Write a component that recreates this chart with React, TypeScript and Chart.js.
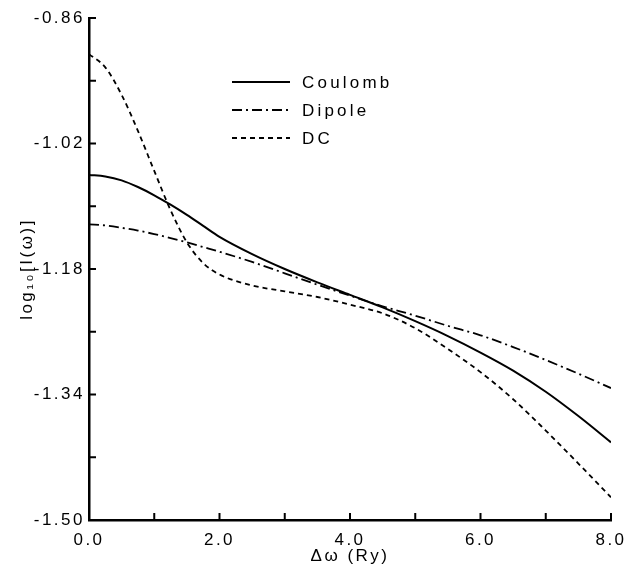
import { useEffect, useRef } from 'react';
import { Chart, registerables } from 'chart.js';

Chart.register(...registerables);

const xValues = [0, 0.25, 0.5, 0.75, 1, 1.25, 1.5, 1.75, 2, 2.5, 3, 3.5, 4, 4.5, 5, 5.5, 6, 6.5, 7, 7.5, 8];
const coulomb = [-1.060, -1.062, -1.067, -1.0755, -1.086, -1.098, -1.111, -1.125, -1.139, -1.161, -1.180, -1.197, -1.213, -1.229, -1.2465, -1.2655, -1.2865, -1.3095, -1.3365, -1.3675, -1.401];
const dipole = [-1.123, -1.1245, -1.1275, -1.131, -1.1355, -1.1405, -1.146, -1.152, -1.158, -1.171, -1.1855, -1.200, -1.214, -1.2275, -1.2395, -1.2525, -1.2645, -1.2795, -1.296, -1.3135, -1.3318];
const dc = [-0.906, -0.923, -0.958, -1.004, -1.055, -1.105, -1.146, -1.1725, -1.187, -1.201, -1.2085, -1.2157, -1.2255, -1.2365, -1.2555, -1.282, -1.3115, -1.346, -1.386, -1.428, -1.471];

const seriesLabels = ['Coulomb', 'Dipole', 'DC'];

const xMajorTicks = [0, 2, 4, 6, 8];
const xTickLabels = ['0.0', '2.0', '4.0', '6.0', '8.0'];
const xMinorTicks = [1, 3, 5, 7];
const yMajorTicks = [-1.5, -1.34, -1.18, -1.02, -0.86];
const yTickLabels = ['-1.50', '-1.34', '-1.18', '-1.02', '-0.86'];
const yMinorTicks = [-1.42, -1.26, -1.1, -0.94];

const xTitle = 'Δω (Ry)';
const yTitle = 'log₁₀[I(ω)]';

const FONT = "'Liberation Sans', Arial, sans-serif";

const spacingPlugin = {
  id: 'spacing',
  beforeDraw(chart: any) {
    chart.ctx.letterSpacing = '2.5px';
  },
};

const innerTicksPlugin = {
  id: 'innerTicks',
  afterDraw(chart: any) {
    const ctx = chart.ctx;
    const xs = chart.scales.x;
    const ys = chart.scales.y;
    const { left, bottom } = chart.chartArea;
    const len = 7;
    ctx.save();
    ctx.strokeStyle = '#000';
    ctx.lineWidth = 2;
    ctx.setLineDash([]);
    ctx.beginPath();
    [...xMajorTicks, ...xMinorTicks].forEach((v) => {
      const px = xs.getPixelForValue(v);
      ctx.moveTo(px, bottom);
      ctx.lineTo(px, bottom - len);
    });
    [...yMajorTicks, ...yMinorTicks].forEach((v) => {
      const py = ys.getPixelForValue(v);
      ctx.moveTo(left, py);
      ctx.lineTo(left + len, py);
    });
    ctx.stroke();
    ctx.restore();
  },
};

const legendPlugin = {
  id: 'inlineLegend',
  afterDraw(chart: any) {
    const ctx = chart.ctx;
    const x0 = 232;
    const x1 = 290;
    const tx = 302;
    const ys = [82, 110, 138];
    ctx.save();
    ctx.letterSpacing = '3.2px';
    ctx.font = `17px ${FONT}`;
    ctx.fillStyle = '#000';
    ctx.textBaseline = 'middle';
    ctx.textAlign = 'left';
    chart.data.datasets.forEach((ds: any, i: number) => {
      ctx.strokeStyle = '#000';
      ctx.lineWidth = 2;
      ctx.setLineDash(ds.borderDash || []);
      ctx.beginPath();
      ctx.moveTo(x0, ys[i]);
      ctx.lineTo(x1, ys[i]);
      ctx.stroke();
      ctx.fillText(ds.label, tx, ys[i] + 1);
    });
    ctx.restore();
  },
};

export default function App() {
  const ref = useRef<HTMLCanvasElement | null>(null);

  useEffect(() => {
    if (!ref.current) return;
    const mk = (ys: number[]) => xValues.map((x, i) => ({ x, y: ys[i] }));
    const chart = new Chart(ref.current, {
      type: 'line',
      data: {
        datasets: [
          { label: seriesLabels[0], data: mk(coulomb), borderColor: '#000', borderWidth: 2, borderDash: [], pointRadius: 0, cubicInterpolationMode: 'monotone', fill: false },
          { label: seriesLabels[1], data: mk(dipole), borderColor: '#000', borderWidth: 1.8, borderDash: [10, 4, 2, 4], pointRadius: 0, cubicInterpolationMode: 'monotone', fill: false },
          { label: seriesLabels[2], data: mk(dc), borderColor: '#000', borderWidth: 1.8, borderDash: [5, 4], pointRadius: 0, cubicInterpolationMode: 'monotone', fill: false },
        ],
      },
      options: {
        responsive: false,
        animation: false,
        events: [],
        layout: { padding: { top: 18, right: 16, left: 0, bottom: 0 } },
        plugins: { legend: { display: false }, tooltip: { enabled: false } },
        scales: {
          x: {
            type: 'linear',
            min: 0,
            max: 8,
            afterBuildTicks: (s: any) => { s.ticks = xMajorTicks.map((v) => ({ value: v })); },
            afterFit: (s: any) => { s.height = 49; s.paddingLeft = 0; s.paddingRight = 0; },
            grid: { display: true, drawOnChartArea: false, drawTicks: false },
            border: { display: true, color: '#000', width: 2.5 },
            ticks: {
              color: '#000',
              padding: 10,
              maxRotation: 0,
              autoSkip: false,
              font: { family: FONT, size: 17 },
              callback: (_v: any, i: number) => xTickLabels[i],
            },
            title: { display: true, text: xTitle, color: '#000', font: { family: FONT, size: 17 }, padding: { top: 0, bottom: 2 } },
          },
          y: {
            type: 'linear',
            min: -1.5,
            max: -0.86,
            afterBuildTicks: (s: any) => { s.ticks = yMajorTicks.map((v) => ({ value: v })); },
            afterFit: (s: any) => { s.width = 89; s.paddingTop = 0; s.paddingBottom = 0; },
            grid: { display: true, drawOnChartArea: false, drawTicks: false },
            border: { display: true, color: '#000', width: 2.5 },
            ticks: {
              color: '#000',
              padding: 4,
              autoSkip: false,
              font: { family: FONT, size: 17 },
              callback: (_v: any, i: number) => yTickLabels[i],
            },
            title: { display: true, text: yTitle, color: '#000', font: { family: FONT, size: 17 }, padding: { top: 17, bottom: 0 } },
          },
        },
      },
      plugins: [spacingPlugin, innerTicksPlugin, legendPlugin],
    } as any);
    return () => chart.destroy();
  }, []);

  return (
    <div style={{ position: 'absolute', left: 0, top: 0, width: 627, height: 569, background: '#fff' }}>
      <canvas ref={ref} width={627} height={569} style={{ width: 627, height: 569, display: 'block' }} />
    </div>
  );
}
